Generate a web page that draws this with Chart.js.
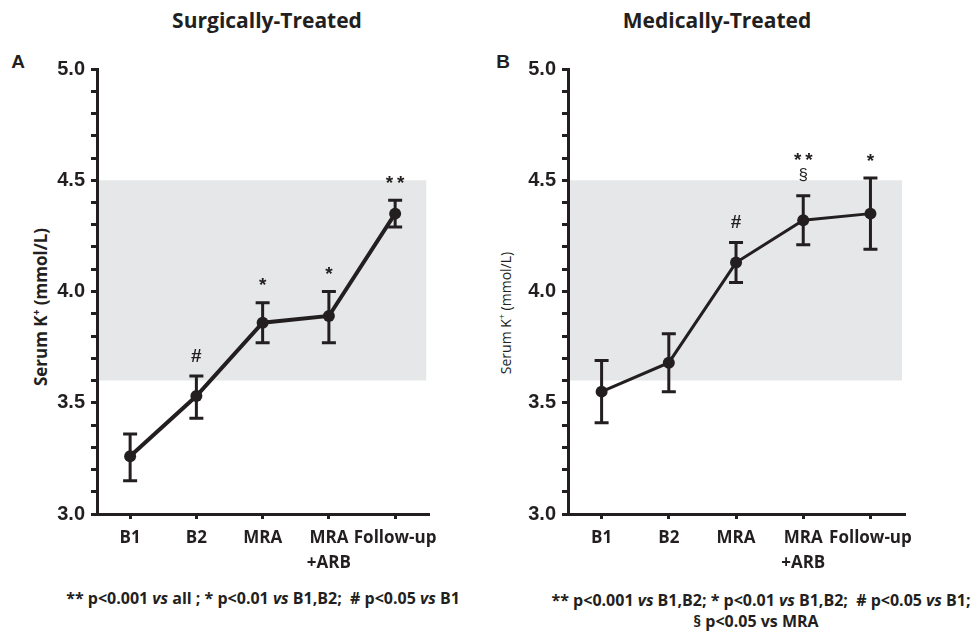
<!DOCTYPE html>
<html><head><meta charset="utf-8">
<script src="https://cdn.jsdelivr.net/npm/chart.js@4.4.1/dist/chart.umd.min.js"></script>
<style>
body{margin:0;background:#fff;width:973px;height:631px;position:relative;overflow:hidden;font-family:"Open Sans",sans-serif;color:#231f20}
.t{position:absolute;white-space:nowrap;line-height:1}
.c{transform:translate(-50%,-50%)}
.ttl{font-weight:700;font-size:21px}
.let{font-family:"Liberation Sans",Arial,sans-serif;font-weight:700;font-size:19px}
.yt{transform:translate(-50%,-50%) rotate(-90deg)}
.fn{font-weight:700;font-size:16px}
canvas{position:absolute}
</style></head><body>
<div class="t c ttl" style="left:267px;top:20px">Surgically-Treated</div>
<div class="t c ttl" style="left:717px;top:20px">Medically-Treated</div>
<div class="t c let" style="left:18px;top:61px">A</div>
<div class="t c let" style="left:503px;top:61px">B</div>
<div class="t yt" style="left:40px;top:307px;font-weight:700;font-size:17px">Serum K<sup style="font-size:10px">+</sup> (mmol/L)</div>
<div class="t yt" style="left:505px;top:313px;font-weight:400;font-size:14px">Serum K<sup style="font-size:9px">+</sup> (mmol/L)</div>
<div class="t c fn" style="left:263px;top:598px">** p&lt;0.001 <i>vs</i> all ; * p&lt;0.01 <i>vs</i> B1,B2;&nbsp; # p&lt;0.05 <i>vs</i> B1</div>
<div class="t c fn" style="left:761px;top:600px">** p&lt;0.001 <i>vs</i> B1,B2; * p&lt;0.01 <i>vs</i> B1,B2;&nbsp; # p&lt;0.05 <i>vs</i> B1;</div>
<div class="t c fn" style="left:756px;top:621px">§ p&lt;0.05 vs MRA</div>
<canvas id="cA" width="445" height="530" style="left:0;top:50px"></canvas>
<canvas id="cB" width="450" height="530" style="left:470px;top:50px"></canvas>
<script>
// ---- data ----
const categories = ['B1', 'B2', 'MRA', ['MRA', '+ARB'], 'Follow-up'];
const yTickLabels = ['3.0', '3.5', '4.0', '4.5', '5.0'];
const normalRange = [3.6, 4.5];
// Panel A: surgically-treated
const meanA = [3.26, 3.53, 3.86, 3.89, 4.35];
const upperA = [3.36, 3.62, 3.95, 4.00, 4.41];
const lowerA = [3.15, 3.43, 3.77, 3.77, 4.29];
const notesA = ['', '#', '*', '*', '**'];
// Panel B: medically-treated
const meanB = [3.55, 3.68, 4.13, 4.32, 4.35];
const upperB = [3.69, 3.81, 4.22, 4.43, 4.51];
const lowerB = [3.41, 3.55, 4.04, 4.21, 4.19];
const notesB = ['', '', '#', '**\n§', '*'];

const INK = '#231f20';

const bandPlugin = {
  id: 'band',
  beforeDraw(chart, args, o) {
    const { ctx, chartArea: a, scales: { y } } = chart;
    const t = y.getPixelForValue(o.high), b = y.getPixelForValue(o.low);
    ctx.save();
    ctx.fillStyle = '#e6e7e8';
    ctx.fillRect(a.left, t, a.right - a.left - 2, b - t);
    ctx.restore();
  }
};

const errPlugin = {
  id: 'errbars',
  afterDatasetsDraw(chart, args, o) {
    const { ctx, scales: { x, y } } = chart;
    ctx.save();
    ctx.strokeStyle = INK;
    ctx.lineWidth = o.width;
    ctx.lineCap = 'butt';
    o.hi.forEach((h, i) => {
      const px = x.getPixelForValue(i);
      const yt = y.getPixelForValue(h), yb = y.getPixelForValue(o.lo[i]);
      ctx.beginPath();
      ctx.moveTo(px, yt); ctx.lineTo(px, yb);
      ctx.moveTo(px - o.cap, yt); ctx.lineTo(px + o.cap, yt);
      ctx.moveTo(px - o.cap, yb); ctx.lineTo(px + o.cap, yb);
      ctx.stroke();
    });
    ctx.fillStyle = INK;
    ctx.textAlign = 'center';
    ctx.textBaseline = 'alphabetic';
    o.notes.forEach((n, i) => {
      if (!n) return;
      const px = x.getPixelForValue(i);
      const yt = y.getPixelForValue(o.hi[i]);
      const lines = n.split('\n');
      lines.forEach((s, k) => {
        const center = yt - 21 - (lines.length - 1 - k) * 18;
        ctx.font = (s === '§' ? '400 17px' : '700 19px') + ' "Liberation Sans", Arial, sans-serif';
        const txt = s.split('').join(s.length > 1 ? '\u2009' : '');
        const m = ctx.measureText(txt);
        const off = (m.actualBoundingBoxAscent - m.actualBoundingBoxDescent) / 2;
        ctx.fillText(txt, px, center + off);
      });
    });
    ctx.restore();
  }
};

function makeChart(id, mean, hi, lo, notes, cfg) {
  return new Chart(document.getElementById(id), {
    type: 'line',
    data: {
      labels: categories,
      datasets: [{
        data: mean,
        borderColor: INK,
        borderWidth: cfg.line,
        pointRadius: 6,
        pointBackgroundColor: INK,
        pointBorderWidth: 0,
        tension: 0,
        clip: false
      }]
    },
    plugins: [bandPlugin, errPlugin],
    options: {
      responsive: false,
      animation: false,
      devicePixelRatio: 1,
      layout: { padding: { top: 19, right: cfg.right, left: 0, bottom: 0 } },
      plugins: {
        legend: { display: false },
        tooltip: { enabled: false },
        band: { low: normalRange[0], high: normalRange[1] },
        errbars: { hi, lo, notes, width: 3, cap: 7 }
      },
      scales: {
        x: {
          offset: true,
          grid: { offset: false, drawOnChartArea: false, drawTicks: true, tickLength: 5, color: INK, lineWidth: 3 },
          border: { display: true, color: INK, width: 3 },
          ticks: { color: INK, font: { family: '"Open Sans"', weight: '700', size: 17, lineHeight: 1.45 }, padding: 7, maxRotation: 0, autoSkip: false },
          afterFit(s) { s.height = 66; }
        },
        y: {
          min: 3, max: 5,
          grid: { drawOnChartArea: false, drawTicks: true, tickLength: 6, color: INK, lineWidth: 3 },
          border: { display: true, color: INK, width: 3 },
          ticks: {
            stepSize: 0.1, autoSkip: false, padding: 6, color: INK,
            font: { family: '"Liberation Sans", Arial', weight: '700', size: 20 },
            callback(v) {
              const s = (Math.round(v * 10) / 10).toFixed(1);
              return yTickLabels.includes(s) ? s : '';
            }
          },
          afterFit(s) { s.width = cfg.yw; }
        }
      }
    }
  });
}

makeChart('cA', meanA, upperA, lowerA, notesA, { line: 4, right: 15, yw: 97 });
makeChart('cB', meanB, upperB, lowerB, notesB, { line: 3, right: 12, yw: 98 });
</script>
</body></html>
